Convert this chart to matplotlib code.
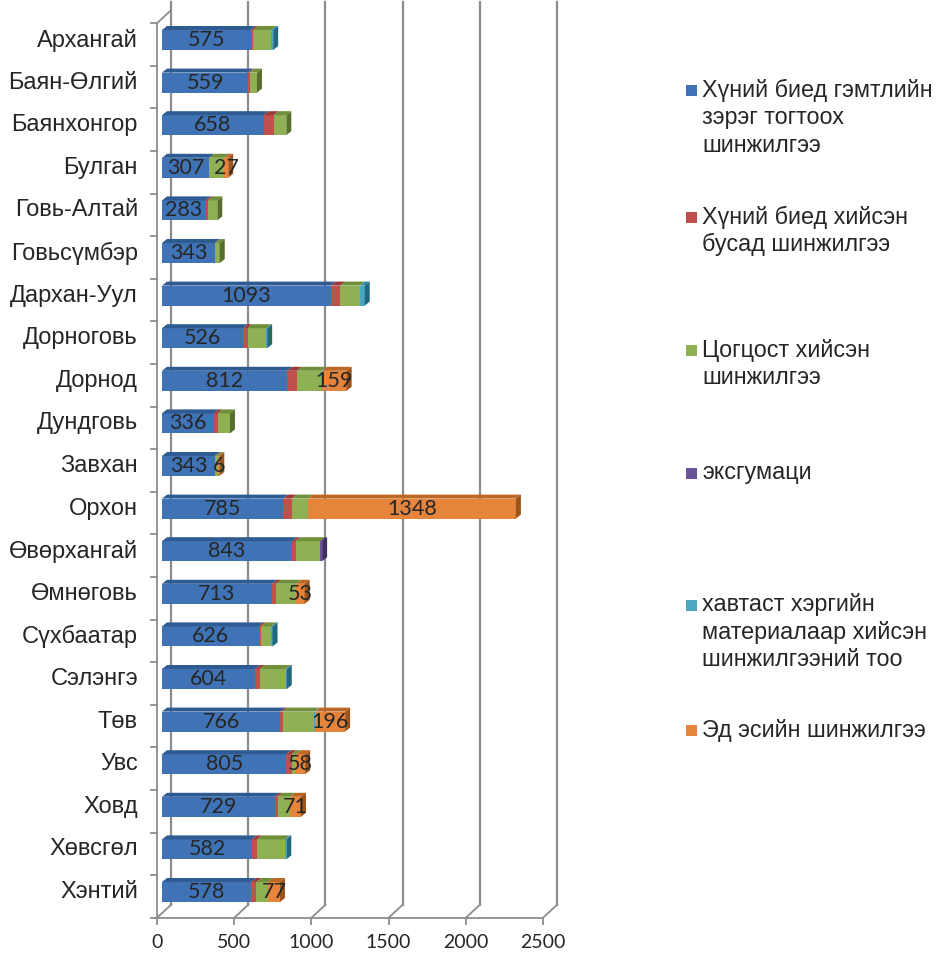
import numpy as np
import matplotlib
matplotlib.use('Agg')
import matplotlib.pyplot as plt
from matplotlib.patches import Polygon, Rectangle
from matplotlib.lines import Line2D
from matplotlib.transforms import ScaledTranslation

# Аймгууд
regions = ['Архангай', 'Баян-Өлгий', 'Баянхонгор', 'Булган', 'Говь-Алтай', 'Говьсүмбэр',
           'Дархан-Уул', 'Дорноговь', 'Дорнод', 'Дундговь', 'Завхан', 'Орхон',
           'Өвөрхангай', 'Өмнөговь', 'Сүхбаатар', 'Сэлэнгэ', 'Төв', 'Увс', 'Ховд',
           'Хөвсгөл', 'Хэнтий']

# Шинжилгээний төрлүүд (зургаас уншсан утгууд)
injury = [575, 559, 658, 307, 283, 343, 1093, 526, 812, 336, 343, 785, 843, 713, 626, 604, 766, 805, 729, 582, 578]
other = [17, 9, 65, 0, 15, 3, 63, 28, 63, 24, 2, 56, 22, 28, 15, 30, 15, 34, 22, 34, 34]
corpse = [116, 47, 82, 95, 60, 28, 125, 121, 157, 80, 20, 103, 157, 130, 67, 166, 203, 30, 78, 181, 75]
exhum = [0, 0, 0, 0, 0, 0, 0, 0, 0, 0, 0, 0, 15, 0, 0, 0, 0, 0, 0, 0, 0]
casefile = [12, 0, 0, 0, 0, 0, 32, 6, 5, 0, 0, 0, 0, 0, 8, 8, 6, 0, 0, 8, 0]
tissue = [0, 0, 0, 27, 0, 0, 0, 0, 159, 0, 6, 1348, 0, 53, 0, 0, 196, 58, 71, 0, 77]

labels = ['Хүний биед гэмтлийн\nзэрэг тогтоох\nшинжилгээ',
          'Хүний биед хийсэн\nбусад шинжилгээ',
          'Цогцост хийсэн\nшинжилгээ',
          'эксгумаци',
          'хавтаст хэргийн\nматериалаар хийсэн\nшинжилгээний тоо',
          'Эд эсийн шинжилгээ']
xticks = [0, 500, 1000, 1500, 2000, 2500]

series = [injury, other, corpse, exhum, casefile, tissue]
colors = ['#3f73b5', '#c0504d', '#8fb153', '#6a5396', '#4aa7c2', '#e5843a']
tops = ['#2f5b93', '#9c3a37', '#6f8f3b', '#4f3c78', '#2f8aa5', '#bf6724']
sides = ['#2b527f', '#7e2e2b', '#566f2c', '#3f2f63', '#21677d', '#9c531c']

W, H = 937, 957
fig = plt.figure(figsize=(W / 100, H / 100), dpi=100)
ax = fig.add_axes([157 / W, (H - 917.8) / H, 386 / W, (917.8 - 23.2) / H])
ax.set_xlim(0, 2500)
ax.set_ylim(len(regions) - 0.5, -0.5)
ax.axis('off')

grid_c = '#8c8c8c'
dx_back, dy_back = 14, 13   # гүн (пиксел)
dx_bar, dy_bar = 5, 4.5     # багана хойшоо шилжилт
dpt_x, dpt_y = 5, 4         # баганын гүн

# арын ханын сүлжээ
back = ax.transData + ScaledTranslation(dx_back / 100, dy_back / 100, fig.dpi_scale_trans)
for xv in xticks:
    ax.plot([xv, xv], [-0.5 - 0.2, len(regions) - 0.5], color=grid_c, lw=1.6,
            transform=back, clip_on=False)

T = ax.transData
def disp(x, y):
    return T.transform((x, y))

# шал ба зүүн хана
for xv in xticks:
    p = disp(xv, len(regions) - 0.5)
    fig.add_artist(Line2D([p[0], p[0] + dx_back], [p[1], p[1] + dy_back], color=grid_c, lw=1.3,
                          transform=None))
    fig.add_artist(Line2D([p[0], p[0]], [p[1], p[1] - 6], color=grid_c, lw=1.3, transform=None))
p0 = disp(0, len(regions) - 0.5)
p1 = disp(2500, len(regions) - 0.5)
fig.add_artist(Line2D([p0[0] - 3, p1[0]], [p0[1], p1[1]], color=grid_c, lw=1.3, transform=None))
pt = disp(0, -0.5)
fig.add_artist(Line2D([p0[0], pt[0]], [p0[1], pt[1]], color=grid_c, lw=1.3, transform=None))
fig.add_artist(Line2D([pt[0], pt[0] + dx_back], [pt[1], pt[1] + dy_back], color=grid_c, lw=1.3,
                      transform=None))
for i in range(len(regions) + 1):
    q = disp(0, i - 0.5)
    fig.add_artist(Line2D([q[0] - 6, q[0]], [q[1], q[1]], color=grid_c, lw=1.3, transform=None))

# баганууд
bh = 0.47
shift = np.array([dx_bar, dy_bar])
y = np.arange(len(regions))
left = np.zeros(len(regions))
for k, vals in enumerate(series):
    vals = np.array(vals, dtype=float)
    for i in range(len(regions)):
        if vals[i] <= 0:
            continue
        L, R = left[i], left[i] + vals[i]
        bl = disp(L, y[i] + bh / 2) + shift
        br = disp(R, y[i] + bh / 2) + shift
        tl = disp(L, y[i] - bh / 2) + shift
        tr = disp(R, y[i] - bh / 2) + shift
        fig.add_artist(Polygon([bl, br, tr, tl], closed=True, transform=None,
                               facecolor=colors[k], edgecolor='none'))
        d = np.array([dpt_x, dpt_y])
        fig.add_artist(Polygon([tl, tr, tr + d, tl + d], closed=True, transform=None,
                               facecolor=tops[k], edgecolor='none'))
        last = all(series[j][i] <= 0 for j in range(k + 1, len(series)))
        if last:
            fig.add_artist(Polygon([br, tr, tr + d, br + d], closed=True, transform=None,
                                   facecolor=sides[k], edgecolor='none'))
    left += vals

# утгын шошго
acc = np.array(injury) + np.array(other) + np.array(corpse) + np.array(exhum) + np.array(casefile)
def put_label(xc, yc, s):
    q = disp(xc, yc) + shift
    fig.text(q[0] / W, q[1] / H, s, ha='center', va='center', fontsize=15.5,
             family='Lato', color='#262626', zorder=10)
for i in range(len(regions)):
    put_label(injury[i] / 2, y[i], str(injury[i]))
    if tissue[i] > 0:
        put_label(acc[i] + tissue[i] / 2, y[i], str(tissue[i]))

# ангиллын нэрс
for i, r in enumerate(regions):
    q = disp(0, y[i]) + shift
    fig.text(138 / W, q[1] / H, r, ha='right', va='center', fontsize=17,
             family='Liberation Sans', color='#262626')

# x тэнхлэгийн утгууд
for xv in xticks:
    q = disp(xv, len(regions) - 0.5)
    fig.text(q[0] / W, (H - 943) / H, str(xv), ha='center', va='center', fontsize=14,
             family='Lato', color='#262626')

# тайлбар
leg_y = [90, 217, 350, 473, 605, 730]
for k, lab in enumerate(labels):
    fig.add_artist(Rectangle((686 / W, (H - leg_y[k] - 5.5) / H), 11 / W, 11 / H,
                             transform=fig.transFigure, facecolor=colors[k], edgecolor='none'))
    for j, line in enumerate(lab.split('\n')):
        fig.text(702 / W, (H - leg_y[k] - 27.5 * j) / H, line, ha='left', va='center',
                 fontsize=16.8, family='Liberation Sans', color='#262626')

fig.savefig('out.png', dpi=100)
